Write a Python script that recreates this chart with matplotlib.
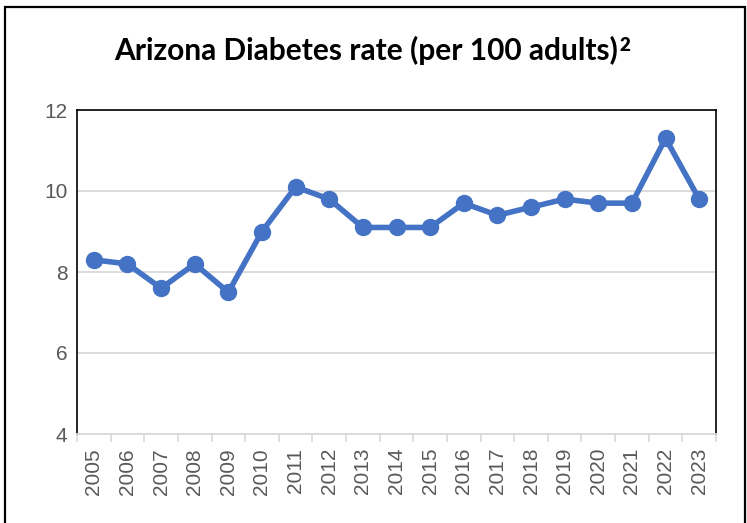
import matplotlib.pyplot as plt
import matplotlib.patches as patches
from matplotlib.ticker import FixedLocator

# Data
years = [str(y) for y in range(2005, 2024)]
rates = [8.3, 8.2, 7.6, 8.2, 7.5, 9.0, 10.1, 9.8, 9.1, 9.1, 9.1,
         9.7, 9.4, 9.6, 9.8, 9.7, 9.7, 11.3, 9.8]
y_ticks = [4, 6, 8, 10, 12]

fig = plt.figure(figsize=(7.47, 5.23), dpi=100)
ax = fig.add_axes([77 / 747, 1 - 434 / 523, 639 / 747, 324 / 523])

x = list(range(len(years)))
ax.plot(x, rates, color='#4472C4', linewidth=4, marker='o', markersize=11.5,
        solid_joinstyle='round', zorder=3)

ax.set_xlim(-0.5, len(years) - 0.5)
ax.set_ylim(4, 12)
ax.set_yticks(y_ticks)
ax.set_xticks(x)
ax.set_xticklabels(years, rotation=90)
ax.xaxis.set_minor_locator(FixedLocator([i - 0.5 for i in range(len(years) + 1)]))

ax.tick_params(axis='x', which='major', length=0, pad=10, labelsize=15, labelcolor='#595959')
ax.tick_params(axis='x', which='minor', length=6, width=1.2, color='#D9D9D9')
ax.tick_params(axis='y', length=0, pad=7, labelsize=15, labelcolor='#595959')
for lab in ax.get_xticklabels() + ax.get_yticklabels():
    lab.set_family('Liberation Sans')

ax.grid(axis='y', color='#D9D9D9', linewidth=1.3)
ax.set_axisbelow(True)

for side in ['left', 'top', 'right']:
    ax.spines[side].set_color('black')
    ax.spines[side].set_linewidth(1.2)
ax.spines['bottom'].set_color('#D9D9D9')
ax.spines['bottom'].set_linewidth(1.3)

# title with a real superscript "2"
title_y = 1 - 60 / 523  # baseline
main = fig.text(0, title_y, 'Arizona Diabetes rate (per 100 adults)', ha='left', va='baseline',
                fontsize=21.5, fontweight='bold', family='Lato')
sup = fig.text(0, title_y, '2', ha='left', va='baseline',
               fontsize=13.5, fontweight='heavy', family='Lato')
renderer = fig.canvas.get_renderer()
w_main = main.get_window_extent(renderer).width / fig.bbox.width
w_sup = sup.get_window_extent(renderer).width / fig.bbox.width
start = 0.498 - (w_main + w_sup) / 2
main.set_x(start)
sup.set_x(start + w_main + 1 / 747)
sup.set_y(title_y + 9 / 523)

# outer chart border
border = patches.Rectangle((5 / 747, -0.1), 740 / 747, 1.1 - 7 / 523, transform=fig.transFigure,
                           fill=False, edgecolor='black', linewidth=1.6)
fig.patches.append(border)

fig.savefig('out.png', dpi=100)
